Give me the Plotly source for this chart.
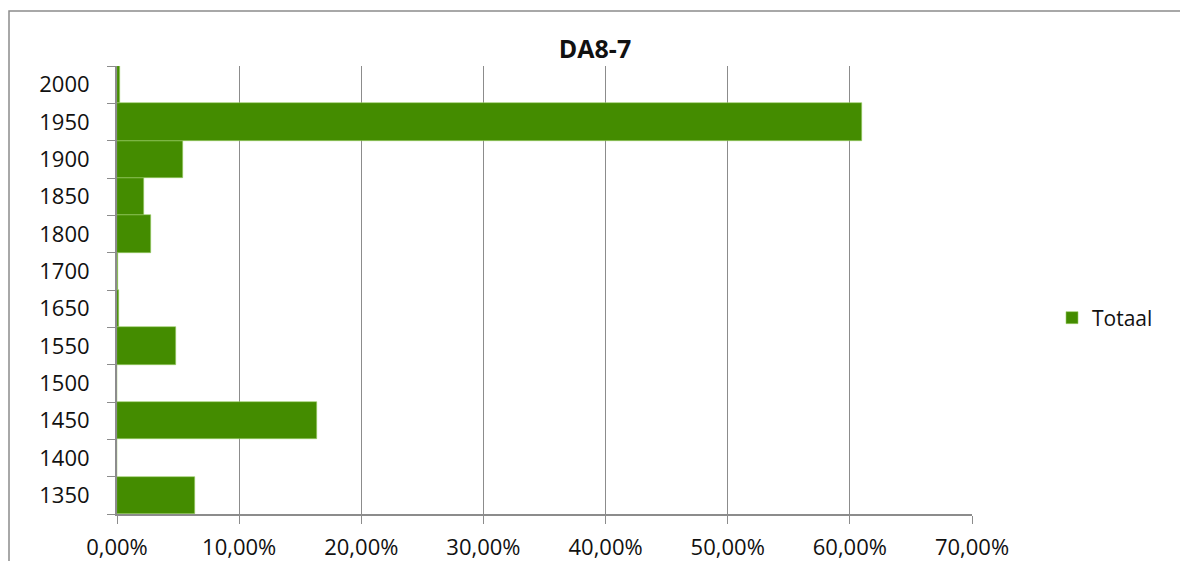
import plotly.graph_objects as go

categories = ["1350", "1400", "1450", "1500", "1550", "1650", "1700", "1800", "1850", "1900", "1950", "2000"]
values = [0.064, 0.0, 0.164, 0.0, 0.0485, 0.0019, 0.0009, 0.0277, 0.0224, 0.054, 0.610, 0.0024]
x_ticks = [0, 0.1, 0.2, 0.3, 0.4, 0.5, 0.6, 0.7]
x_tick_labels = ["0,00%", "10,00%", "20,00%", "30,00%", "40,00%", "50,00%", "60,00%", "70,00%"]
series_name = "Totaal"
title_text = "DA8-7"

FONT = "'Open Sans', Lato, sans-serif"
GREEN = "#448C00"
GRID = "#8c8c8c"

fig = go.Figure()
fig.add_trace(go.Bar(
    y=categories, x=values, orientation="h", name=series_name,
    marker=dict(color=GREEN, line=dict(width=0.6, color="#9ACD66")),
))

W, H = 1180, 561
L, T = 117, 66
pw, ph = 855, 448
R = W - L - pw
B = H - T - ph

fig.update_layout(
    width=W, height=H,
    margin=dict(l=L, r=R, t=T, b=B, autoexpand=False),
    paper_bgcolor="white", plot_bgcolor="white",
    bargap=0,
    showlegend=True,
    title=dict(text="<b>" + title_text + "</b>", x=595 / W, xref="container",
               y=1 - 49 / H, yref="container", yanchor="middle", xanchor="center",
               font=dict(family=FONT, size=25, color="#111")),
    legend=dict(x=(1052 - L) / pw, y=(T + ph - 318) / ph, xanchor="left", yanchor="middle",
                font=dict(family=FONT, size=21, color="#111"), bgcolor="rgba(0,0,0,0)"),
    font=dict(family=FONT, color="#111"),
)

fig.update_xaxes(
    range=[0, 0.7], tickmode="array", tickvals=x_ticks, ticktext=x_tick_labels,
    showgrid=True, gridcolor=GRID, gridwidth=1.3,
    showline=True, linecolor=GRID, linewidth=2,
    ticks="outside", ticklen=8, tickcolor=GRID, tickwidth=1.3,
    tickfont=dict(family=FONT, size=22, color="#111"),
    ticklabelstandoff=5, zeroline=False, automargin=False,
)
fig.update_yaxes(
    type="category", categoryorder="array", categoryarray=categories,
    showgrid=False, showline=True, linecolor=GRID, linewidth=2,
    ticks="outside", ticklen=8, tickcolor=GRID, tickwidth=1.3, tickson="boundaries",
    tickfont=dict(family=FONT, size=22, color="#111"),
    ticklabelstandoff=21, automargin=False,
)

# outer chart border (cropped at right and bottom in reference)
fig.add_shape(type="rect", xref="paper", yref="paper",
              x0=(9 - L) / pw, x1=(1200 - L) / pw,
              y0=(T + ph - 580) / ph, y1=(T + ph - 11) / ph,
              line=dict(color="#8c8c8c", width=1.5), fillcolor="rgba(0,0,0,0)", layer="below")

fig.write_html(
    "out.html",
    config={"displayModeBar": False},
    post_script="document.body.style.margin='0px';document.body.style.overflow='hidden';",
)
